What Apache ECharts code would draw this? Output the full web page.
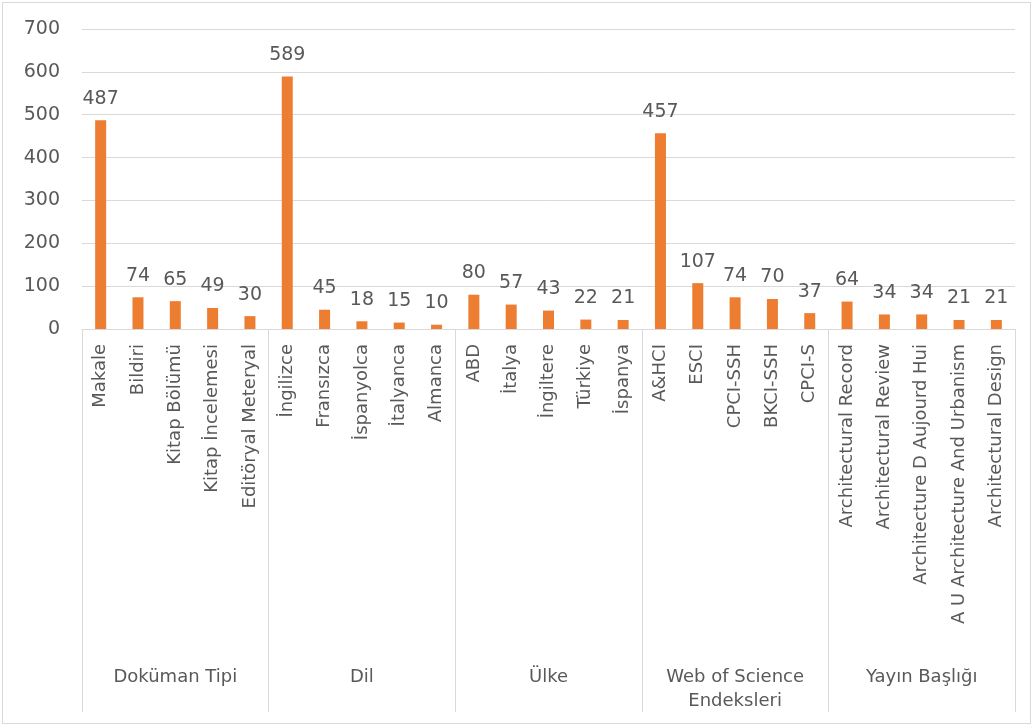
<!DOCTYPE html>
<html>
<head>
<meta charset="utf-8">
<script src="https://cdn.jsdelivr.net/npm/echarts@6/dist/echarts.min.js"></script>
<style>
  html, body { margin: 0; padding: 0; background: #fff; }
  #chart { width: 1034px; height: 727px; }
  #frame { position: absolute; left: 2px; top: 2px; width: 1027px; height: 720px; border: 1px solid #d9d9d9; pointer-events: none; }
</style>
</head>
<body>
<div id="chart"></div>
<div id="frame"></div>
<script>
const categories = [
  'Makale', 'Bildiri', 'Kitap Bölümü', 'Kitap İncelemesi', 'Editöryal Meteryal',
  'İngilizce', 'Fransızca', 'İspanyolca', 'İtalyanca', 'Almanca',
  'ABD', 'İtalya', 'İngiltere', 'Türkiye', 'İspanya',
  'A&HCI', 'ESCI', 'CPCI-SSH', 'BKCI-SSH', 'CPCI-S',
  'Architectural Record', 'Architectural Review', 'Architecture D Aujourd Hui', 'A U Architecture And Urbanism', 'Architectural Design'
];
const values = [
  487, 74, 65, 49, 30,
  589, 45, 18, 15, 10,
  80, 57, 43, 22, 21,
  457, 107, 74, 70, 37,
  64, 34, 34, 21, 21
];
const groups = ['Doküman Tipi', 'Dil', 'Ülke', 'Web of Science\nEndeksleri', 'Yayın Başlığı'];
const yTicks = { min: 0, max: 700, interval: 100 };

const FONT = 'DejaVu Sans';
const TXT = '#595959';
const LINE = '#d9d9d9';

const chart = echarts.init(document.getElementById('chart'));
chart.setOption({
  animation: false,
  grid: { left: 82, right: 19, top: 29, bottom: 398 },
  xAxis: [
    {
      type: 'category',
      data: categories,
      position: 'bottom',
      axisLine: { show: true, lineStyle: { color: LINE, width: 1 } },
      axisTick: { show: false },
      axisLabel: {
        interval: 0, rotate: 90, margin: 15,
        fontFamily: FONT, fontSize: 18, color: TXT
      }
    },
    {
      type: 'category',
      data: groups,
      position: 'bottom',
      offset: 0,
      axisLine: { show: false },
      axisTick: { show: true, interval: 0, length: 383, lineStyle: { color: LINE, width: 1 } },
      axisLabel: {
        interval: 0, margin: 336, fontFamily: FONT, fontSize: 18, color: TXT,
        lineHeight: 24
      }
    }
  ],
  yAxis: {
    type: 'value',
    min: yTicks.min, max: yTicks.max, interval: yTicks.interval,
    axisLine: { show: false },
    axisTick: { show: false },
    axisLabel: { margin: 22, fontFamily: FONT, fontSize: 19, color: TXT },
    splitLine: { lineStyle: { color: LINE, width: 1 } }
  },
  series: [{
    type: 'bar',
    xAxisIndex: 0,
    data: values,
    barWidth: 11,
    itemStyle: { color: '#ED7D31' },
    label: {
      show: true, position: 'top', distance: 12,
      fontFamily: FONT, fontSize: 19, color: TXT
    }
  }]
});
</script>
</body>
</html>
